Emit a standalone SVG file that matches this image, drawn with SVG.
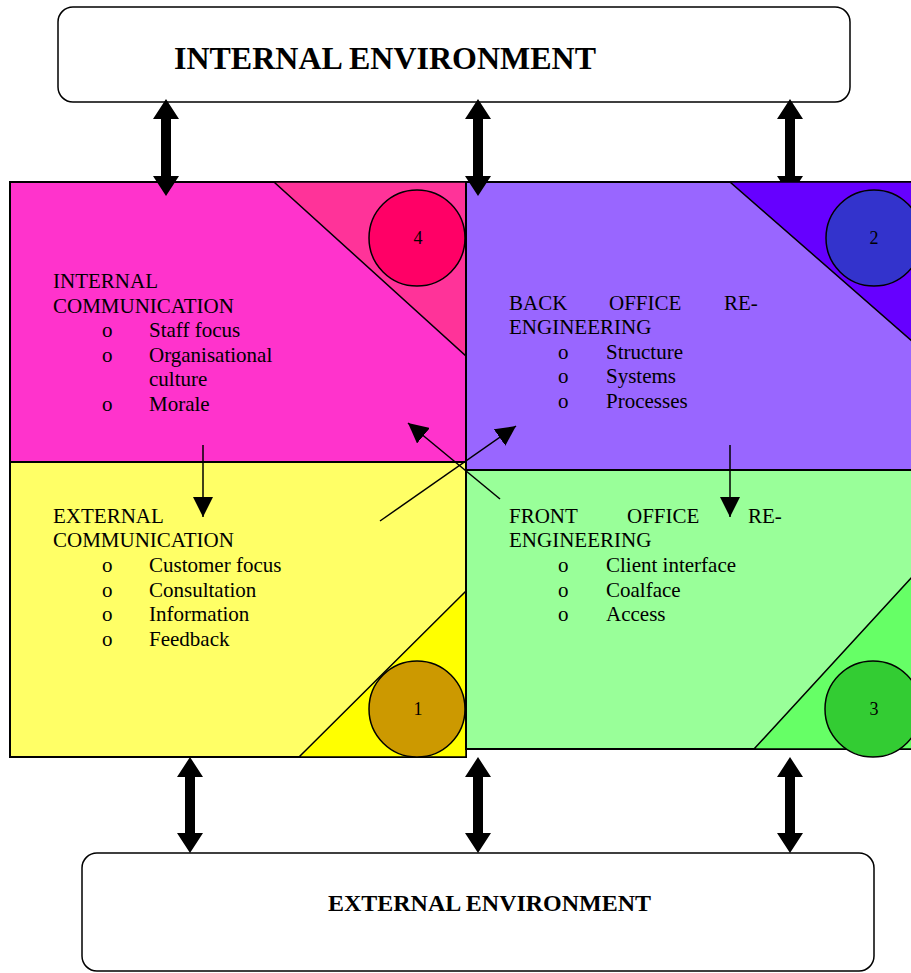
<svg xmlns="http://www.w3.org/2000/svg" width="911" height="973" viewBox="0 0 911 973">
<style>
.box{fill:#fff;stroke:#000;stroke-width:1.5}
.q{stroke:#000;stroke-width:2}
.tri{stroke:#000;stroke-width:1.5}
.c{stroke:#000;stroke-width:1.5}
.t{font-family:"Liberation Serif","Times New Roman",serif;font-size:21px;fill:#000}
.n{font-family:"Liberation Serif","Times New Roman",serif;font-size:18px;fill:#000;text-anchor:middle}
.h{font-family:"Liberation Serif","Times New Roman",serif;font-weight:bold;fill:#000}
.dbl{fill:#000}
.ln{stroke:#000;stroke-width:1.5;fill:none;marker-end:url(#ah)}
</style>
<defs>
<marker id="ah" viewBox="0 0 20 20" refX="20" refY="10" markerWidth="20" markerHeight="20" markerUnits="userSpaceOnUse" orient="auto">
<path d="M0,0 L20,10 L0,20 z" fill="#000"/>
</marker>
</defs>

<g id="internal-env">
<rect class="box" x="58" y="7" width="792" height="95" rx="15"/>
<text class="h" x="174" y="69" font-size="31" textLength="422" lengthAdjust="spacingAndGlyphs">INTERNAL ENVIRONMENT</text>
</g>

<g id="external-env">
<rect class="box" x="82" y="853" width="792" height="118" rx="15"/>
<text class="h" x="328" y="911" font-size="24" textLength="323" lengthAdjust="spacingAndGlyphs">EXTERNAL ENVIRONMENT</text>
</g>

<g id="connectors-back">
<polygon class="dbl" points="790,99 803,119 795,119 795,176 803,176 790,196 777,176 785,176 785,119 777,119"/>
</g>

<g id="internal-communication">
<rect class="q" x="10" y="182" width="456" height="280" fill="#FF33CC"/>
<polygon class="tri" points="274,182 466,182 466,356" fill="#FF3399"/>
<circle class="c" cx="417" cy="238" r="48" fill="#FF0066"/>
<text class="n" x="418" y="244">4</text>
<text class="t" x="53" y="288">INTERNAL</text>
<text class="t" x="53" y="312.5">COMMUNICATION</text>
<text class="t" x="102" y="337">o</text><text class="t" x="149" y="337">Staff focus</text>
<text class="t" x="102" y="361.5">o</text><text class="t" x="149" y="361.5">Organisational</text>
<text class="t" x="149" y="386">culture</text>
<text class="t" x="102" y="410.5">o</text><text class="t" x="149" y="410.5">Morale</text>
</g>

<g id="back-office">
<rect class="q" x="466" y="182" width="470" height="288" fill="#9966FF"/>
<polygon class="tri" points="730,182 936,182 936,362" fill="#6600FF"/>
<circle class="c" cx="874" cy="238" r="48" fill="#3333CC"/>
<text class="n" x="874" y="244">2</text>
<text class="t" x="509" y="310">BACK</text>
<text class="t" x="609" y="310">OFFICE</text>
<text class="t" x="724" y="310">RE-</text>
<text class="t" x="509" y="334">ENGINEERING</text>
<text class="t" x="558" y="358.5">o</text><text class="t" x="606" y="358.5">Structure</text>
<text class="t" x="558" y="383">o</text><text class="t" x="606" y="383">Systems</text>
<text class="t" x="558" y="407.5">o</text><text class="t" x="606" y="407.5">Processes</text>
</g>

<g id="external-communication">
<rect class="q" x="10" y="462" width="456" height="295" fill="#FFFF66"/>
<polygon class="tri" points="299,757 466,591 466,757" fill="#FFFF00"/>
<circle class="c" cx="417" cy="709" r="48" fill="#CC9900"/>
<text class="n" x="418" y="715">1</text>
<text class="t" x="53" y="523">EXTERNAL</text>
<text class="t" x="53" y="547">COMMUNICATION</text>
<text class="t" x="102" y="572">o</text><text class="t" x="149" y="572">Customer focus</text>
<text class="t" x="102" y="596.5">o</text><text class="t" x="149" y="596.5">Consultation</text>
<text class="t" x="102" y="621">o</text><text class="t" x="149" y="621">Information</text>
<text class="t" x="102" y="645.5">o</text><text class="t" x="149" y="645.5">Feedback</text>
</g>

<g id="front-office">
<rect class="q" x="466" y="470" width="470" height="279" fill="#99FF99"/>
<polygon class="tri" points="754,749 936,551 936,749" fill="#66FF66"/>
<circle class="c" cx="873" cy="709" r="48" fill="#33CC33"/>
<text class="n" x="874" y="715">3</text>
<text class="t" x="509" y="523">FRONT</text>
<text class="t" x="627" y="523">OFFICE</text>
<text class="t" x="748" y="523">RE-</text>
<text class="t" x="509" y="547">ENGINEERING</text>
<text class="t" x="558" y="572">o</text><text class="t" x="606" y="572">Client interface</text>
<text class="t" x="558" y="596.5">o</text><text class="t" x="606" y="596.5">Coalface</text>
<text class="t" x="558" y="621">o</text><text class="t" x="606" y="621">Access</text>
</g>

<g id="connectors">
<polygon class="dbl" points="166,99 179,119 171,119 171,176 179,176 166,196 153,176 161,176 161,119 153,119"/>
<polygon class="dbl" points="478,99 491,119 483,119 483,176 491,176 478,196 465,176 473,176 473,119 465,119"/>
<polygon class="dbl" points="190,757 203,777 195,777 195,833 203,833 190,853 177,833 185,833 185,777 177,777"/>
<polygon class="dbl" points="478,757 491,777 483,777 483,833 491,833 478,853 465,833 473,833 473,777 465,777"/>
<polygon class="dbl" points="790,757 803,777 795,777 795,833 803,833 790,853 777,833 785,833 785,777 777,777"/>
<line class="ln" x1="203" y1="445" x2="203" y2="517"/>
<line class="ln" x1="730" y1="445" x2="730" y2="517"/>
<line class="ln" x1="500" y1="499" x2="408" y2="423"/>
<line class="ln" x1="380" y1="521" x2="516" y2="426"/>
</g>
</svg>
